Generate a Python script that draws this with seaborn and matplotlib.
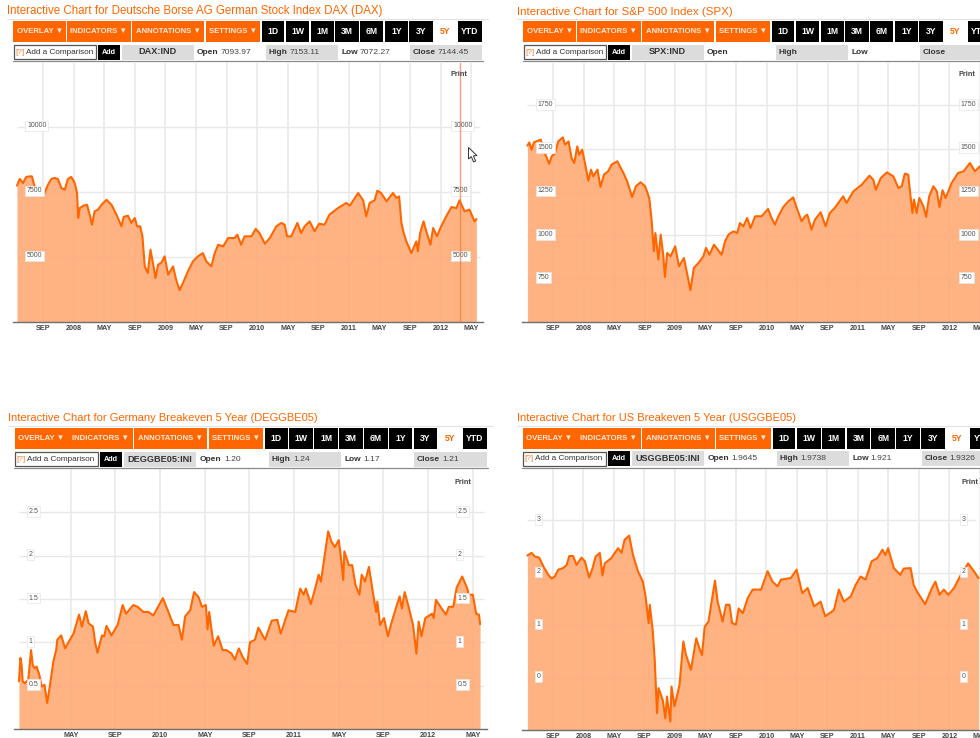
import matplotlib
matplotlib.use("Agg")
import matplotlib.pyplot as plt
import seaborn as sns
from matplotlib.patches import Rectangle, Polygon

sns.set_theme(style="white")
plt.rcParams['font.family'] = ['Liberation Sans', 'DejaVu Sans']

# ---------- data (x = months after the first tick) ----------
dax_months = [-3.4,-3.05,-2.6,-2.2,-1.75,-1.45,-1.2,-0.65,-0.2,0.2,0.65,1.1,1.5,1.95,2.4,2.85,3.25,3.7,4.15,4.45,4.6,4.8,5.25,5.75,6.1,6.4,6.75,7.2,7.65,8.3,8.95,9.6,10.25,10.55,11.1,11.55,12,12.3,12.7,13,13.3,13.7,14.05,14.45,14.7,15.05,15.45,15.9,16.35,17,17.4,17.85,18.3,18.95,19.6,20.25,20.9,21.35,22,22.45,22.9,23.55,24.2,25.05,25.4,25.9,26.35,27.25,27.8,28.3,29,29.65,30.5,31.15,31.6,31.9,32.45,33.25,33.75,34.2,34.85,35.5,36.1,36.8,37.45,38.55,39.65,40.1,41.2,41.85,42.25,42.7,43.35,43.7,44.2,44.9,45.75,46.2,46.55,46.85,47.15,47.5,48.15,48.8,49,49.3,49.75,50.1,50.65,51,51.5,52.05,52.7,53.4,54.05,54.45,55.1,55.75,56.4,56.65]
dax_values = [7743,8000,7846,8077,8100,8100,7820,7360,7400,7460,7780,8000,8040,8000,7650,7590,8000,8077,7846,7460,6500,6880,6970,7010,6630,6240,6760,6820,7010,7200,7010,6630,6180,6540,6590,6310,6500,6180,6180,5795,4640,4385,5280,4640,4190,4705,4770,5025,4320,4640,4130,3720,4000,4450,4830,5025,5150,4830,4640,5150,5470,5410,5730,5730,5860,5470,5795,5795,6080,5920,5510,5730,6180,6310,6240,5795,5795,6310,5920,6180,6370,5990,6280,6240,6630,6880,7080,6970,7460,7180,6560,7080,7180,7550,7460,7140,7460,7270,7330,6310,5920,5600,5150,5600,5220,5920,6370,5990,5470,6115,5795,6180,6560,6920,6880,7180,6760,6820,6370,6460]

spx_months = [-3.4,-3.15,-2.85,-2.55,-1.65,-1.3,-0.85,-0.55,-0.2,0.2,0.65,1.25,1.55,2,2.4,2.75,3.15,3.4,3.8,4.15,4.6,4.95,5.25,5.8,6.2,6.65,7.2,7.65,8.4,9.2,9.7,10.35,10.85,11.45,12.05,12.6,12.9,13.2,13.4,13.8,14.1,14.45,14.65,14.95,15.4,16,16.5,17.15,17.6,18,18.45,19.05,19.7,20.05,20.5,21.1,22.1,22.55,23,23.65,24.15,24.5,24.95,25.45,25.9,26.5,27.35,28.2,28.65,29.1,29.55,30.2,30.85,31.5,31.95,32.2,32.6,33.05,33.35,33.9,34.35,35.1,35.75,36.3,36.95,38.05,38.5,39.4,40.5,41.5,42,42.35,43,43.8,44.65,45.3,45.75,46.15,46.6,46.85,47.15,47.35,47.7,48.05,48.6,48.95,49.35,49.9,50.35,50.7,51.1,51.5,52.3,53.15,53.85,54.7,55.35,56]
spx_values = [1517,1536,1494,1536,1552,1494,1446,1413,1456,1471,1542,1565,1523,1542,1446,1417,1513,1465,1494,1417,1315,1379,1340,1379,1279,1350,1369,1408,1427,1360,1311,1221,1283,1306,1283,1215,1090,908,1013,860,1004,879,760,898,879,937,821,869,773,683,812,840,879,927,888,946,888,965,1004,1023,1013,1071,1052,1100,1042,1110,1110,1152,1100,1062,1110,1163,1196,1219,1158,1129,1081,1110,1119,1033,1090,1133,1052,1129,1158,1225,1187,1254,1292,1344,1321,1263,1331,1363,1340,1273,1283,1356,1350,1244,1129,1206,1129,1215,1167,1106,1225,1283,1254,1163,1260,1215,1302,1360,1369,1417,1369,1398]

deu_months = [-4.63,-4.5,-4.4,-4.3,-4.1,-3.8,-3.55,-3.4,-3.25,-3.05,-2.8,-2.6,-2.35,-2.1,-1.85,-1.55,-1.3,-1.2,-0.85,-0.5,-0.2,0.25,0.75,1,1.35,1.6,2,2.2,2.4,2.8,3,3.2,3.65,4.2,4.65,4.95,5.6,6,6.5,6.95,7.4,8.25,8.75,9.2,9.65,9.95,10.25,10.7,11.05,11.45,11.75,12.1,12.25,12.4,12.8,13.2,13.6,13.95,14.4,14.7,15.05,15.4,15.8,16.05,16.5,16.8,17.4,18,18.5,18.8,19.5,20.1,20.55,20.85,21.05,21.5,21.9,22.2,22.4,23.05,23.35,23.65,24,24.2,24.4,24.5,24.9,25.2,25.5,25.85,26.05,26.35,26.7,27.05,27.35,27.45,27.7,28.05,28.4,28.75,29.2,29.45,29.65,29.9,30.25,30.65,30.95,31.15,31.4,31.75,32.35,32.5,32.7,33.1,33.6,33.85,34.25,34.55,35.05,35.5,35.65,36,36.3,36.55,36.65]
deu_values = [.55,.82,.74,.55,.53,.565,.91,.74,.70,.72,.62,.49,.51,.30,.51,.78,.91,1.03,1.08,.93,1.0,1.10,1.32,1.18,1.36,1.22,1.18,.99,.88,1.08,1.07,1.19,1.08,1.2,1.43,1.33,1.43,1.41,1.35,1.35,1.31,1.51,1.35,1.2,1.2,1.03,1.3,1.37,1.58,1.52,1.41,1.43,1.15,1.35,.96,1.07,.91,.91,.87,.8,.93,.83,.75,1.0,1.03,1.17,1.03,1.25,1.26,1.1,1.37,1.35,1.62,1.55,1.62,1.44,1.63,1.78,1.7,2.28,2.16,2.1,2.18,1.97,1.72,2.05,1.89,1.89,1.66,1.55,1.78,1.7,1.87,1.58,1.35,1.47,1.2,1.28,1.07,1.24,1.43,1.53,1.39,1.58,1.41,1.2,.87,1.24,1.07,1.28,1.33,1.28,1.49,1.41,1.32,1.41,1.41,1.63,1.76,1.62,1.55,1.55,1.33,1.32,1.21]

usa_months = [-3.35,-2.8,-2.35,-1.8,-1.25,-0.6,-0.15,0.25,0.7,1.35,1.8,2.15,2.65,3.1,3.75,4.2,4.75,5.2,5.6,6.15,6.5,6.8,7.65,8.55,9,9.4,10,10.5,11.15,11.8,12.15,12.55,12.7,13.1,13.35,13.65,13.85,14.4,14.75,14.95,15.4,15.55,15.95,16.6,17.1,17.45,18.1,18.8,19.2,19.55,19.9,20.4,21.25,21.6,22.25,22.7,23.15,23.5,24,24.35,24.9,25.55,26.2,27.3,28.15,28.8,29.45,29.9,31.2,31.95,32.7,33.4,34.25,35.1,35.7,36.85,37.5,38.15,39.05,39.7,40.35,41,41.8,42.55,43.2,43.6,43.95,44.7,45.55,46,46.9,47.3,47.75,48.8,49.7,50.15,50.7,51.25,51.85,52.6,53.45,54.45,55.2,55.8]
usa_values = [2.33,2.38,2.31,2.29,2.12,1.96,1.89,1.93,2.06,2.09,2.15,2.32,2.32,2.15,2.29,2.22,1.91,2.09,2.31,2.38,1.95,2.18,2.28,2.47,2.38,2.63,2.71,2.34,2.03,1.83,1.55,1.04,1.39,.88,.34,-.68,-.2,-.43,-.78,-.36,-.84,-.17,-.55,-.14,.69,.43,.15,.75,.56,.43,.97,1.07,1.85,1.45,1.07,1.39,1.39,1.04,1.01,1.32,1.23,1.52,1.68,1.68,2.03,1.83,1.74,1.87,1.9,2.06,1.61,1.71,1.36,1.45,1.17,1.29,1.68,1.45,1.55,1.77,1.93,1.87,2.22,2.28,2.44,2.34,2.47,2.09,1.96,2.08,2.09,1.77,1.64,1.4,1.71,1.83,1.58,1.68,1.58,1.71,1.95,2.18,2.03,1.9]

long_ticks = ["SEP","2008","MAY","SEP","2009","MAY","SEP","2010","MAY","SEP","2011","MAY","SEP","2012","MAY"]
short_ticks = ["MAY","SEP","2010","MAY","SEP","2011","MAY","SEP","2012","MAY"]
dax_levels = [5000, 7500, 10000]
spx_levels = [750, 1000, 1250, 1500, 1750]
deu_levels = [0.5, 1, 1.5, 2, 2.5]
usa_levels = [0, 1, 2, 3]
buttons = ["OVERLAY ▼", "INDICATORS ▼", "ANNOTATIONS ▼", "SETTINGS ▼"]
ranges = ["1D", "1W", "1M", "3M", "6M", "1Y", "3Y"]

panels = [
 dict(title="Interactive Chart for Deutsche Borse AG German Stock Index DAX (DAX)", sym="DAX:IND",
      o="7093.97", h="7153.11", l="7072.27", c="7144.45", x=dax_months, y=dax_values, levels=dax_levels,
      labels=["5000","7500","10000"], ticks=long_ticks, fs=8.3,
      box=(13,483,63,322), zero=43.0, ppm=7.65, ylim=(2500,12461), tx=7, ty=11, ox=13.3, dy=0, sx=1.0,
      lab=(27,453), prn=459, prny=75),
 dict(title="Interactive Chart for S&P 500 Index (SPX)", sym="SPX:IND",
      o="", h="", l="", c="", x=spx_months, y=spx_values, levels=spx_levels,
      labels=["750","1000","1250","1500","1750"], ticks=long_ticks, fs=8.25,
      box=(522,980,63,322), zero=553.3, ppm=7.617, ylim=(500,1994), tx=517, ty=12, ox=523.3, dy=0, sx=1.0,
      lab=(537.5,960.5), prn=967, prny=75),
 dict(title="Interactive Chart for Germany Breakeven 5 Year (DEGGBE05)", sym="DEGGBE05:INI",
      o="1.20", h="1.24", l="1.17", c="1.21", x=deu_months, y=deu_values, levels=deu_levels,
      labels=["0.5","1","1.5","2","2.5"], ticks=short_ticks, fs=8.05,
      box=(14,487,469,729), zero=70.7, ppm=11.17, ylim=(0,3.0), tx=8, ty=418, ox=14.7, dy=407.3, sx=1.0075,
      lab=(28.5,457.5), prn=463, prny=482),
 dict(title="Interactive Chart for US Breakeven 5 Year (USGGBE05)", sym="USGGBE05:INI",
      o="1.9645", h="1.9738", l="1.921", c="1.9326", x=usa_months, y=usa_values, levels=usa_levels,
      labels=["0","1","2","3"], ticks=long_ticks, fs=8.0,
      box=(522,980,468,730), zero=553.0, ppm=7.65, ylim=(-1,4.0), tx=517, ty=418, ox=522.7, dy=406.7, sx=1.006,
      lab=(536.5,963), prn=970, prny=482),
]

W, H = 980, 738
ORANGE = "#FF6600"
FILL = "#FFAD7A"
GRID = "#E8E8E8"
TXT = "#444444"

fig = plt.figure(figsize=(W/100, H/100), dpi=100, facecolor="white")

for p in panels:
    L, R, T, B = p["box"]
    ax = fig.add_axes([L/W, 1-B/H, (R-L)/W, (B-T)/H], facecolor="none")
    ax.set_xlim((L-p["zero"])/p["ppm"], (R-p["zero"])/p["ppm"])
    ax.set_ylim(*p["ylim"])
    ticks = [i*4 for i in range(len(p["ticks"]))]
    ax.set_xticks(ticks)
    ax.set_xticklabels(p["ticks"], fontsize=5.2, fontweight="bold", color=TXT)
    ax.set_yticks([])
    ax.tick_params(axis="x", length=0, pad=2)
    for s in ("left", "right", "top"):
        ax.spines[s].set_visible(False)
    ax.spines["bottom"].set_color("#6E6E6E")
    ax.spines["bottom"].set_linewidth(1.0)
    ax.set_axisbelow(True)
    ax.grid(axis="x", color=GRID, linewidth=1.1)
    x0, x1 = p["x"][0], (R-3-p["zero"])/p["ppm"]
    ax.hlines(p["levels"], x0, x1, color=GRID, linewidth=1.0, zorder=1)
    ax.fill_between(p["x"], p["y"], p["ylim"][0], color=FILL, alpha=0.93, linewidth=0, zorder=2)
    sns.lineplot(x=p["x"], y=p["y"], ax=ax, color=ORANGE, linewidth=1.5, sort=False,
                 estimator=None, legend=False, zorder=3)
    ax.set_xlabel(""); ax.set_ylabel("")
    upp = (p["ylim"][1]-p["ylim"][0])/(B-T)
    for px in p["lab"]:
        xm = (px-p["zero"])/p["ppm"]
        for v, s in zip(p["levels"], p["labels"]):
            ax.text(xm, v+1.0*upp, s, fontsize=5.0, color="#555555", ha="left", va="center", zorder=5,
                    bbox=dict(boxstyle="square,pad=0.25", fc="white", ec="#E6E6E6", lw=0.5))

# page furniture drawn in picture pixels
ui = fig.add_axes([0, 0, 1, 1], facecolor="none")
ui.set_xlim(0, W); ui.set_ylim(H, 0); ui.axis("off")

def rect(x0, x1, y0, y1, fc, ec="none", lw=0):
    ui.add_patch(Rectangle((x0, y0), x1-x0, y1-y0, fc=fc, ec=ec, lw=lw, clip_on=True))

for p in panels:
    ox, dy, sx = p["ox"], p["dy"], p["sx"]
    X = lambda z: ox + (z/3 - 13.3)*sx
    ui.text(p["tx"], p["ty"], p["title"], color=ORANGE, fontsize=p["fs"], va="center", ha="left")
    ui.plot([X(22), min(X(1465), W)], [19+dy, 19+dy], color="#E3E3E3", lw=0.8)
    spans = [(40,198),(200,392),(395,613),(617,780)]
    for (a,b), t in zip(spans, buttons):
        rect(X(a), X(b), 21+dy, 42+dy, ORANGE)
        ui.text((X(a)+X(b))/2, 31.2+dy, t, color="#FFE9DC", fontsize=5.6, fontweight="bold", ha="center", va="center")
    blacks = [(785,853),(857,928),(932,1002),(1006,1076),(1080,1150),(1154,1224),(1228,1298)]
    for (a,b), t in zip(blacks, ranges):
        rect(X(a), X(b), 21+dy, 42+dy, "black")
        ui.text((X(a)+X(b))/2, 31.5+dy, t, color="white", fontsize=6.2, fontweight="bold", ha="center", va="center")
    ui.text(X(1335), 31.5+dy, "5Y", color=ORANGE, fontsize=6.2, fontweight="bold", ha="center", va="center")
    rect(X(1375), X(1445), 21+dy, 42+dy, "black")
    ui.text(X(1410), 31.5+dy, "YTD", color="white", fontsize=6.2, fontweight="bold", ha="center", va="center")
    # second row
    rect(X(41), X(289), 45+dy, 59+dy, "white", "#555555", 0.9)
    ui.text(X(46), 52+dy, "[?]", color="#F08030", fontsize=5.9, ha="left", va="center")
    ui.text(X(78), 52+dy, "Add a Comparison", color="#333333", fontsize=5.9, ha="left", va="center")
    rect(X(294), X(360), 44.5+dy, 59.5+dy, "black")
    ui.text(X(327), 52+dy, "Add", color="white", fontsize=5.2, fontweight="bold", ha="center", va="center")
    rect(X(365), X(581), 44.5+dy, 59.5+dy, "#DCDCDC")
    ui.text(X(472), 52+dy, p["sym"], color="#333333", fontsize=6.6, fontweight="bold", ha="center", va="center")
    rect(X(797), X(1013), 44.5+dy, 59.5+dy, "#DCDCDC")
    rect(X(1230), X(1445), 44.5+dy, 59.5+dy, "#DCDCDC")
    for z, name, val in [(590,"Open",p["o"]),(806,"High",p["h"]),(1023,"Low",p["l"]),(1238,"Close",p["c"])]:
        ui.text(X(z), 52+dy, name, color="#333333", fontsize=6.0, fontweight="bold", ha="left", va="center")
        zv = {590:663, 806:869, 1023:1078, 1238:1313}[z]
        ui.text(X(zv), 52+dy, val, color="#444444", fontsize=6.1, ha="left", va="center")
    ui.plot([X(38), min(X(1448), W)], [61+dy, 61+dy], color="#8A8A8A", lw=0.9)
    ui.text(p["prn"], p["prny"], "Print", color="#444444", fontsize=5.3, fontweight="bold", ha="center", va="center")

# crosshair and mouse pointer in the DAX panel
ui.plot([460.2, 460.2], [63, 322], color="#F0703A", lw=1.0, alpha=0.65)
ui.add_patch(Polygon([(468.5,147.5),(468.5,159),(471.3,156.6),(473.6,162),(475.6,161),(473.4,155.8),(477,155.6)],
                     closed=True, fc="white", ec="#333333", lw=0.7))

fig.savefig("out.png", dpi=100, facecolor="white")
